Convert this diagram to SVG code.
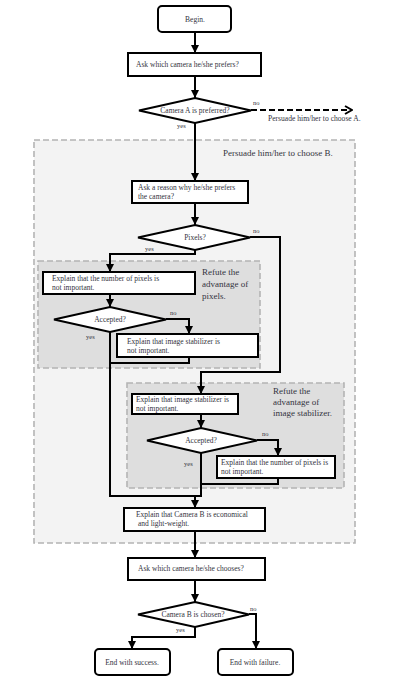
<svg xmlns="http://www.w3.org/2000/svg" width="403" height="681" viewBox="0 0 403 681">
<defs>
<style>
.box{fill:#fff;stroke:#000;stroke-width:2}
.t{font-family:"Liberation Serif",serif;font-size:7.5px;fill:#333340}
.tc{font-family:"Liberation Serif",serif;font-size:7.5px;fill:#333340;text-anchor:middle}
.lbl{font-family:"Liberation Serif",serif;font-size:6.5px;fill:#333340}
.big{font-family:"Liberation Serif",serif;font-size:9px;fill:#333340}
.grp{stroke:#b4b4b4;stroke-width:1.6;stroke-dasharray:6 3}
.c{fill:none;stroke:#000;stroke-width:2}
</style>
<marker id="ah" markerUnits="userSpaceOnUse" markerWidth="8" markerHeight="8" viewBox="0 0 8 8" refX="8" refY="4" orient="auto">
<path d="M0,0 L8,4 L0,8 Z" fill="#000"/>
</marker>
<marker id="ch" markerUnits="userSpaceOnUse" markerWidth="10" markerHeight="10" viewBox="0 0 10 10" refX="9" refY="5" orient="auto">
<path d="M2,1 L9,5 L2,9" fill="none" stroke="#000" stroke-width="2"/>
</marker>
</defs>
<rect width="403" height="681" fill="#fff"/>

<g id="group-persuade-b">
<rect class="grp" x="34" y="140" width="321" height="403" fill="#f3f3f3"/>
<text class="big" x="223" y="156">Persuade him/her to choose B.</text>
</g>
<g id="group-refute-pixels">
<rect class="grp" x="38" y="261" width="222" height="107" fill="#dedede"/>
<text class="big" x="202" y="275">Refute the</text>
<text class="big" x="202" y="287">advantage of</text>
<text class="big" x="202" y="299">pixels.</text>
</g>
<g id="group-refute-stabilizer">
<rect class="grp" x="127" y="383" width="217" height="105" fill="#dedede"/>
<text class="big" x="273" y="394">Refute the</text>
<text class="big" x="273" y="405">advantage of</text>
<text class="big" x="273" y="416">image stabilizer.</text>
</g>

<g id="connectors">
<path class="c" d="M195,32 V53" marker-end="url(#ah)"/>
<path class="c" d="M195,76 V98" marker-end="url(#ah)"/>
<path class="c" d="M251,110 H352" stroke-dasharray="6 3" marker-end="url(#ch)"/>
<path class="c" d="M195,123 V181" marker-end="url(#ah)"/>
<path class="c" d="M195,203 V225" marker-end="url(#ah)"/>
<path class="c" d="M195,250 V254 H110 V272" marker-end="url(#ah)"/>
<path class="c" d="M250,237 H280 V372 H201 V394" marker-end="url(#ah)"/>
<path class="c" d="M110,294 V307" marker-end="url(#ah)"/>
<path class="c" d="M166,319 H189 V334" marker-end="url(#ah)"/>
<path class="c" d="M110,332 V496 H201"/>
<path class="c" d="M189,357 V363 H110"/>
<path class="c" d="M201,414 V428" marker-end="url(#ah)"/>
<path class="c" d="M257,440 H278 V456" marker-end="url(#ah)"/>
<path class="c" d="M201,453 V497"/>
<path class="c" d="M278,478 V484 H201"/>
<path class="c" d="M195,496 V508" marker-end="url(#ah)"/>
<path class="c" d="M195,531 V558" marker-end="url(#ah)"/>
<path class="c" d="M195,580 V602" marker-end="url(#ah)"/>
<path class="c" d="M195,627 V637 H132 V649" marker-end="url(#ah)"/>
<path class="c" d="M249,614 H256 V649" marker-end="url(#ah)"/>
<text class="lbl" x="253" y="105">no</text>
<text class="t" x="268" y="121" style="font-size:7.6px">Persuade him/her to choose A.</text>
<text class="lbl" x="177" y="128">yes</text>
<text class="lbl" x="253" y="233">no</text>
<text class="lbl" x="145" y="251">yes</text>
<text class="lbl" x="170" y="315">no</text>
<text class="lbl" x="86" y="339">yes</text>
<text class="lbl" x="262" y="436">no</text>
<text class="lbl" x="184" y="466">yes</text>
<text class="lbl" x="250" y="611">no</text>
<text class="lbl" x="176" y="632">yes</text>
</g>

<g id="begin">
<rect class="box" x="158" y="6" width="73" height="26" rx="4"/>
<text class="tc" x="195" y="21.5">Begin.</text>
</g>
<g id="ask-prefers">
<rect class="box" x="128" y="53" width="133" height="23"/>
<text class="t" x="136" y="67">Ask which camera he/she prefers?</text>
</g>
<g id="camera-a-preferred">
<polygon class="box" points="195,98 251,110.5 195,123 139,110.5"/>
<text class="tc" x="195" y="113">Camera A is preferred?</text>
</g>
<g id="ask-reason">
<rect class="box" x="132" y="181" width="116" height="22"/>
<text class="t" x="138" y="190">Ask a reason why he/she prefers</text>
<text class="t" x="138" y="199">the camera?</text>
</g>
<g id="pixels">
<polygon class="box" points="195,225 250,237.5 195,250 138,237.5"/>
<text class="tc" x="195" y="240">Pixels?</text>
</g>
<g id="explain-pixels-1">
<rect class="box" x="43" y="272" width="152" height="22"/>
<text class="t" x="52" y="281">Explain that the number of pixels is</text>
<text class="t" x="52" y="290">not important.</text>
</g>
<g id="accepted-1">
<polygon class="box" points="110,307 166,319.5 110,332 54,319.5"/>
<text class="tc" x="110" y="322">Accepted?</text>
</g>
<g id="explain-stabilizer-1">
<rect class="box" x="117" y="334" width="141" height="23"/>
<text class="t" x="127" y="344">Explain that image stabilizer is</text>
<text class="t" x="127" y="353">not important.</text>
</g>
<g id="explain-stabilizer-2">
<rect class="box" x="132" y="394" width="106" height="20"/>
<text class="t" x="136" y="402">Explain that image stabilizer is</text>
<text class="t" x="136" y="411">not important.</text>
</g>
<g id="accepted-2">
<polygon class="box" points="201,428 257,440.5 201,453 147,440.5"/>
<text class="tc" x="201" y="443">Accepted?</text>
</g>
<g id="explain-pixels-2">
<rect class="box" x="217" y="456" width="118" height="22"/>
<text class="t" x="221" y="465">Explain that the number of pixels is</text>
<text class="t" x="221" y="474">not important.</text>
</g>
<g id="explain-camera-b">
<rect class="box" x="124" y="508" width="141" height="23"/>
<text class="t" x="136" y="517">Explain that Camera B is economical</text>
<text class="t" x="138" y="526">and light-weight.</text>
</g>
<g id="ask-chooses">
<rect class="box" x="128" y="558" width="137" height="22"/>
<text class="t" x="138" y="571">Ask which camera he/she chooses?</text>
</g>
<g id="camera-b-chosen">
<polygon class="box" points="195,602 249,614.5 195,627 138,614.5"/>
<text class="tc" x="193" y="617">Camera B is chosen?</text>
</g>
<g id="end-success">
<rect class="box" x="95" y="649" width="75" height="26" rx="4"/>
<text class="tc" x="132" y="664.5">End with success.</text>
</g>
<g id="end-failure">
<rect class="box" x="218" y="649" width="75" height="26" rx="4"/>
<text class="tc" x="255" y="664.5">End with failure.</text>
</g>
</svg>
